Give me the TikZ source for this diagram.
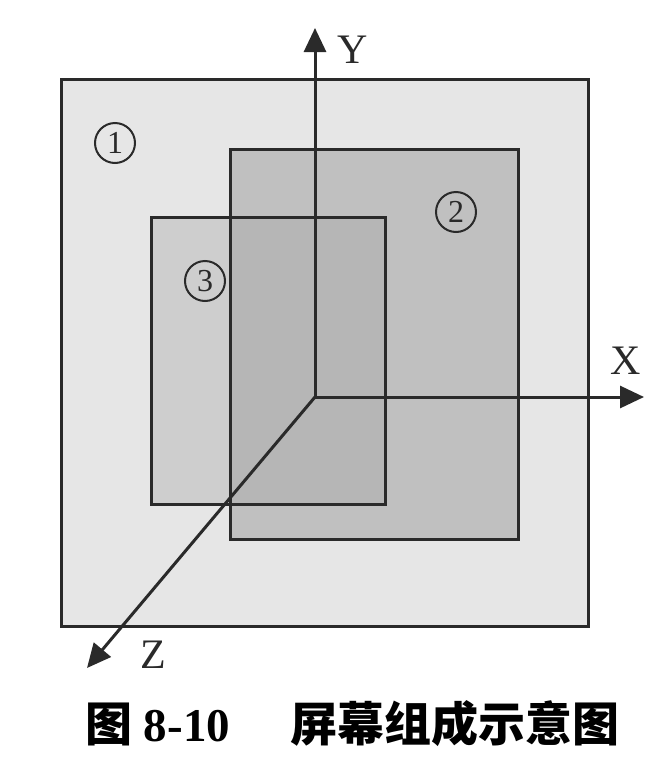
\documentclass[tikz,border=0pt]{standalone}
\usepackage{fontspec}
\setmainfont{Liberation Serif}
\newfontfamily\cjk{Noto Sans CJK SC}
\usetikzlibrary{arrows.meta}
\definecolor{outerfill}{HTML}{E6E6E6}
\definecolor{twofill}{HTML}{C0C0C0}
\definecolor{threefill}{HTML}{CECECE}
\definecolor{bothfill}{HTML}{B6B6B6}
\definecolor{ink}{HTML}{2A2A2A}
\begin{document}
\begin{tikzpicture}[x=1pt,y=-1pt,
  frame/.style={draw=ink,line width=3pt,line join=miter},
  axis/.style={draw=ink,line width=3pt,-{Triangle[length=24pt,width=22pt]}},
  axlabel/.style={font=\fontsize{42}{42}\selectfont,text=ink,inner sep=0pt},
  cnum/.style={circle,draw=ink,line width=2pt,minimum size=40pt,inner sep=0pt,
    font=\fontsize{32}{32}\selectfont,text=ink},
  caption/.style={font=\fontsize{47}{47}\selectfont\bfseries,text=black,inner sep=0pt}]
\useasboundingbox (0,0) rectangle (672,774);
% screen 1
\fill[outerfill] (61,79) rectangle (588,626);
% screen 2 and 3 fills
\fill[twofill] (230,149) rectangle (518,539);
\fill[threefill] (151,217) rectangle (385,504);
\fill[bothfill] (230,217) rectangle (385,504);
% borders
\draw[frame] (61,79) rectangle (588,626);
\draw[frame] (230,149) rectangle (518,539);
\draw[frame] (151,217) rectangle (385,504);
% axes
\coordinate (O) at (315,397);
\coordinate (Ytip) at (315,28);
\coordinate (Xtip) at (644,397);
\coordinate (Ztip) at (87,668);
\draw[axis] (O) -- (Ytip);
\draw[axis] (O) -- (Xtip);
\draw[axis] (O) -- (Ztip);
\node[axlabel] (ylab) at (353,50) {Y};
\node[axlabel] (xlab) at (626,361) {X};
\node[axlabel] (zlab) at (153,655) {Z};
% circled numbers
\node[cnum] (n1) at (115,143) {1};
\node[cnum] (n2) at (456,212) {2};
\node[cnum] (n3) at (205,281) {3};
% caption
\node[caption,anchor=west] (cap1) at (85,724) {{\cjk 图} 8-10};
\node[caption,anchor=east] (cap2) at (620,724) {\cjk 屏幕组成示意图};
\end{tikzpicture}
\end{document}
